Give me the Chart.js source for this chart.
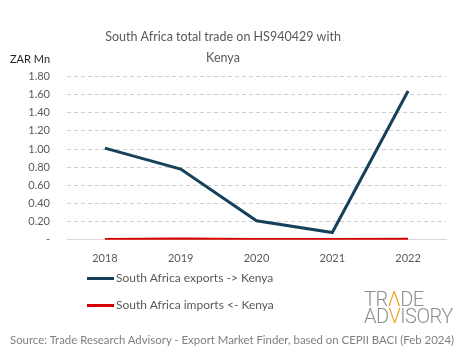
<!DOCTYPE html>
<html>
<head>
<meta charset="utf-8">
<script src="https://cdn.jsdelivr.net/npm/chart.js@4.4.1/dist/chart.umd.min.js"></script>
<style>
    body { margin: 0; background: #fff; }
    #wrap { position: relative; width: 465px; height: 359px; overflow: hidden; font-family: Lato, "Open Sans", sans-serif; }
    #chart { position: absolute; left: 0; top: 0; }
    .unit { position: absolute; left: 10px; top: 52px; font-size: 11px; color: #262626; }
    .legend { position: absolute; left: 87px; font-size: 12px; color: #595959; }
    .legend span.swatch { display: inline-block; width: 27px; height: 3px; vertical-align: middle; margin-right: 2px; }
    .logo { position: absolute; font-family: Roboto, sans-serif; font-weight: 300; color: #8f8f8f; font-size: 20px; line-height: 17px; letter-spacing: -0.5px; }
    .logo .o { color: #f0a020; }
    .source { position: absolute; left: 10px; top: 333px; font-size: 11.4px; color: #7f7f7f; white-space: nowrap; }
</style>
</head>
<body>
<div id="wrap">
    <canvas id="chart" width="465" height="359"></canvas>
    <div class="unit">ZAR Mn</div>
    <div class="legend" style="top: 270px;"><span class="swatch" style="background:#17415a"></span>South Africa exports -&gt; Kenya</div>
    <div class="legend" style="top: 297px;"><span class="swatch" style="background:#d40000"></span>South Africa imports &lt;- Kenya</div>
    <div class="logo" style="left: 364px; top: 291px;">TR<span class="o">&#923;</span>DE</div>
    <div class="logo" style="left: 364px; top: 308px;">AD<span class="o">V</span>ISORY</div>
    <div class="source">Source: Trade Research Advisory - Export Market Finder, based on CEPII BACI (Feb 2024)</div>
</div>
<script>
const years = ['2018', '2019', '2020', '2021', '2022'];
const exportsToKenya = [1.01, 0.78, 0.21, 0.08, 1.64];
const importsFromKenya = [0.002, 0.008, 0.004, 0.003, 0.005];
const titleLines = ['South Africa total trade on HS940429 with', 'Kenya'];

const ctx = document.getElementById('chart');

new Chart(ctx, {
    type: 'line',
    data: {
        labels: years,
        datasets: [
            {
                label: 'South Africa imports <- Kenya',
                data: importsFromKenya,
                borderColor: '#d40000',
                borderWidth: 3,
                pointRadius: 0,
                tension: 0
            },
            {
                label: 'South Africa exports -> Kenya',
                data: exportsToKenya,
                borderColor: '#17415a',
                borderWidth: 3,
                pointRadius: 0,
                tension: 0
            }
        ]
    },
    options: {
        responsive: false,
        animation: false,
        layout: {
            padding: { left: 0, right: 19, top: 0, bottom: 82 }
        },
        plugins: {
            legend: { display: false },
            tooltip: { enabled: false },
            title: {
                display: true,
                text: titleLines,
                color: '#595959',
                font: { family: 'Lato', size: 12.5, weight: 'normal', lineHeight: 1.7 },
                padding: { top: 26, bottom: 8 }
            }
        },
        scales: {
            x: {
                offset: true,
                grid: { display: false, drawTicks: false },
                border: { display: true, color: '#d9d9d9', width: 1 },
                ticks: {
                    color: '#595959',
                    font: { family: 'Lato', size: 11 },
                    padding: 12
                }
            },
            y: {
                min: 0,
                max: 1.8,
                afterFit(scale) { scale.width = 67; },
                grid: {
                    drawTicks: false,
                    color: c => c.tick.value === 0 ? 'rgba(0,0,0,0)' : '#d0d0d0'
                },
                border: { display: false, dash: [4, 3] },
                ticks: {
                    stepSize: 0.2,
                    autoSkip: false,
                    padding: 17,
                    color: '#595959',
                    font: { family: 'Lato', size: 11 },
                    callback: v => v === 0 ? '-' : v.toFixed(2)
                }
            }
        }
    }
});
</script>
</body>
</html>
